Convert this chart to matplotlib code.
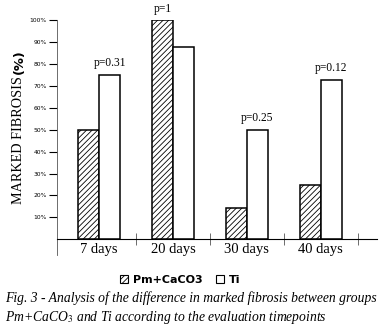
import numpy as np
import matplotlib

matplotlib.use("Agg")
import matplotlib.pyplot as plt
from matplotlib.patches import Patch

plt.rcParams["hatch.linewidth"] = 0.6
plt.rcParams["mathtext.fontset"] = "stix"

# --- data ---
timepoints = ["7 days", "20 days", "30 days", "40 days"]
pm_caco3 = [50, 100, 14.3, 25]
ti = [75, 87.5, 50, 72.7]
p_values = ["p=0.31", "p=1", "p=0.25", "p=0.12"]
y_ticks = [10, 20, 30, 40, 50, 60, 70, 80, 90, 100]

SERIF = "Liberation Serif"
SANS = "DejaVu Sans"
BAR_W = 0.284

fig = plt.figure(figsize=(3.82, 3.29), dpi=100)
ax = fig.add_axes([0.149, 0.2726, 0.838, 0.6664])

x = np.arange(len(timepoints))
ax.bar(x - BAR_W / 2, pm_caco3, BAR_W, facecolor="white", edgecolor="black",
       hatch="//////", linewidth=1.1)
ax.bar(x + BAR_W / 2, ti, BAR_W, facecolor="white", edgecolor="black",
       linewidth=1.1)

# p-value above the taller bar of each pair
for i, p in enumerate(p_values):
    off = -BAR_W / 2 if pm_caco3[i] >= ti[i] else BAR_W / 2
    top = max(pm_caco3[i], ti[i])
    ax.text(x[i] + off, top + 2.5, p, ha="center", va="bottom",
            fontsize=8.3, family=SERIF)

ax.set_xlim(-0.57, 3.76)
ax.set_ylim(0, 100)

for s in ["top", "right"]:
    ax.spines[s].set_visible(False)
ax.spines["left"].set_linewidth(0.6)
ax.spines["left"].set_color("#555555")
ax.spines["left"].set_bounds(-7, 100)
ax.spines["bottom"].set_linewidth(0.8)

ax.set_yticks(y_ticks)
ax.set_yticklabels([f"{t}%" for t in y_ticks], fontsize=4.3, family=SANS)
ax.tick_params(axis="y", length=6, width=0.8, pad=1.5)

ax.set_xticks(x)
ax.set_xticklabels(timepoints, fontsize=10.5, family=SERIF)
ax.set_xticks(x + 0.5, minor=True)
ax.tick_params(axis="x", which="major", length=0, pad=3)
ax.tick_params(axis="x", which="minor", length=8, width=0.6,
               direction="inout", color="#555555")

# y label: serif words + bold sans "(%)"
fig.text(19 / 382, 1 - 140 / 329, "MARKED FIBROSIS", rotation=90,
         ha="center", va="center", fontsize=10.2, family=SERIF)
fig.text(19 / 382, 1 - 62 / 329, "(%)", rotation=90, ha="center",
         va="center", fontsize=9.4, family=SANS, fontweight="bold")

handles = [
    Patch(facecolor="white", edgecolor="black", hatch="//////", linewidth=0.8),
    Patch(facecolor="white", edgecolor="black", linewidth=0.8),
]
fig.legend(handles, ["Pm+CaCO3", "Ti"], loc="center",
           bbox_to_anchor=(180 / 382, 1 - 280 / 329), ncol=2, frameon=False,
           prop={"family": SANS, "weight": "bold", "size": 8},
           handlelength=0.75, handleheight=0.8, handletextpad=0.4,
           columnspacing=1.2, borderpad=0)

fig.text(5 / 382, 1 - 298 / 329,
         "Fig. 3 - Analysis of the difference in marked fibrosis between groups",
         ha="left", va="center", fontsize=9.8, family=SERIF, style="italic")
fig.text(5 / 382, 1 - 317 / 329,
         "Pm+CaCO$_3$ and Ti according to the evaluation timepoints",
         ha="left", va="center", fontsize=9.8, family=SERIF, style="italic")

fig.savefig("out.png", dpi=100)
